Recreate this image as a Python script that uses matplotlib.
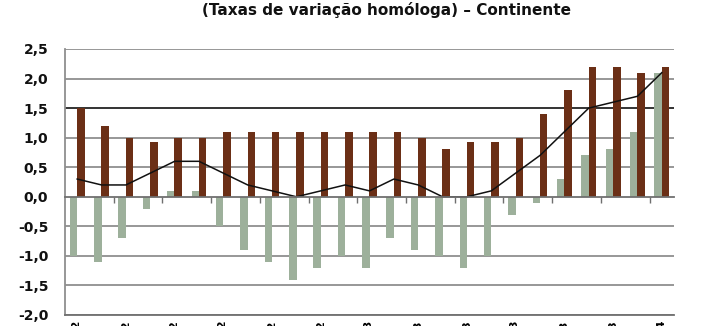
import matplotlib
matplotlib.use("Agg")
import matplotlib.pyplot as plt
import numpy as np

title = "(Taxas de variação homóloga) – Continente"
categories = ["jan-12", "fev-12", "mar-12", "abr-12", "mai-12", "jun-12", "jul-12",
              "ago-12", "set-12", "out-12", "nov-12", "dez-12", "jan-13", "fev-13",
              "mar-13", "abr-13", "mai-13", "jun-13", "jul-13", "ago-13", "set-13",
              "out-13", "nov-13", "dez-13", "jan-14"]
brown_vals = [1.5, 1.2, 1.0, 0.92, 1.0, 1.0, 1.1, 1.1, 1.1, 1.1, 1.1, 1.1, 1.1, 1.1,
              1.0, 0.8, 0.92, 0.92, 1.0, 1.4, 1.8, 2.2, 2.2, 2.1, 2.2]
green_vals = [-1.0, -1.1, -0.7, -0.2, 0.1, 0.1, -0.5, -0.9, -1.1, -1.4, -1.2, -1.0,
              -1.2, -0.7, -0.9, -1.0, -1.2, -1.0, -0.3, -0.1, 0.3, 0.7, 0.8, 1.1, 2.1]
line_vals = [0.3, 0.2, 0.2, 0.4, 0.6, 0.6, 0.4, 0.2, 0.1, 0.0, 0.1, 0.2, 0.1, 0.3,
             0.2, 0.0, 0.0, 0.1, 0.4, 0.7, 1.1, 1.5, 1.6, 1.7, 2.1]
yticks = [-2.0, -1.5, -1.0, -0.5, 0.0, 0.5, 1.0, 1.5, 2.0, 2.5]
ref_level = 1.5

BROWN = "#6b2f16"
GREEN = "#9db09b"

fig = plt.figure(figsize=(7.12, 3.26), dpi=100)
ax = fig.add_axes([65/712, 11/326, (674-65)/712, (315-49)/326])

n = len(categories)
x = np.arange(n)
w = 0.31
ax.bar(x - 0.15, green_vals, width=w, color=GREEN, zorder=3)
ax.bar(x + 0.15, brown_vals, width=w, color=BROWN, zorder=3)
ax.plot(x, line_vals, color="#111111", lw=1.1, zorder=4)

ax.set_xlim(-0.5, n - 0.5)
ax.set_ylim(-2.0, 2.5)
ax.set_yticks(yticks)
ax.set_yticklabels([f"{v:.1f}".replace(".", ",") for v in yticks],
                   fontsize=10, fontweight="bold", color="#111111")
ax.tick_params(axis="y", length=0, pad=12)

for v in yticks:
    if v == 0.0:
        continue
    if v == ref_level:
        ax.axhline(v, color="#111111", lw=1.2, zorder=1)
    else:
        ax.axhline(v, color="#8f8f8f", lw=1.3, zorder=1)

ax.set_xticks(x[::2])
ax.set_xticklabels(categories[::2], rotation=90, fontsize=8, fontweight="bold")
ax.tick_params(axis="x", length=0, pad=4)

for s in ["top", "right"]:
    ax.spines[s].set_visible(False)
ax.spines["left"].set_color("#8f8f8f")
ax.spines["left"].set_linewidth(1.3)
ax.spines["bottom"].set_color("#6f6f6f")
ax.spines["bottom"].set_linewidth(1.3)

# zero axis with tick marks every two categories
zero_frac = (0 - (-2.0)) / (2.5 - (-2.0))
sec = ax.secondary_xaxis(zero_frac)
sec.set_xticks(np.arange(-0.5, n, 2)[1:])
sec.set_xticklabels([])
sec.tick_params(axis="x", direction="out", length=4, color="#6f6f6f", width=1.0)
sec.spines["bottom"].set_color("#6f6f6f")
sec.spines["bottom"].set_linewidth(1.3)
sec.set_zorder(5)

fig.text(387/712, 1 - 10/326, title, ha="center", va="center",
         fontsize=11, fontweight="bold", color="#111111")

fig.savefig("out.png", dpi=100)
